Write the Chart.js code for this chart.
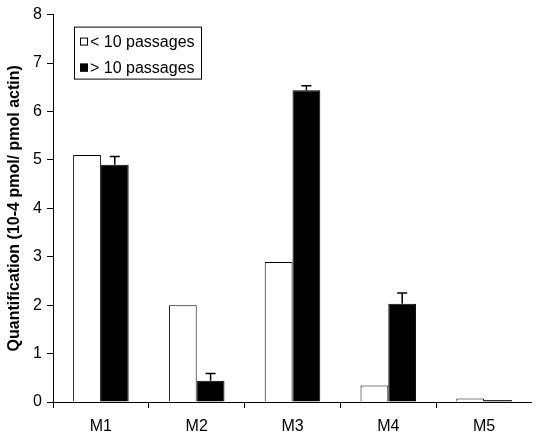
<!DOCTYPE html>
<html>
<head>
<meta charset="utf-8">
<script src="https://cdn.jsdelivr.net/npm/chart.js@4/dist/chart.umd.min.js"></script>
<style>
  html, body { margin: 0; padding: 0; background: #fff; overflow: hidden; }
  #contenedor { width: 532px; height: 434px; position: relative; }
</style>
</head>
<body>
<div id="contenedor"><canvas id="grafica"></canvas></div>
<script>
// Datos
const etiquetas = ["M1", "M2", "M3", "M4", "M5"];
const menos10 = [5.1, 2.0, 2.89, 0.34, 0.07];
const mas10 = [4.9, 0.44, 6.44, 2.03, 0.04];
const errorMas10 = [0.17, 0.15, 0.09, 0.22, 0];
const ticksY = [0, 1, 2, 3, 4, 5, 6, 7, 8];

const fuente = "'Liberation Sans', Arial, sans-serif";

// Barras de error (solo hacia arriba) sobre las barras negras
const barrasError = {
  id: "barrasError",
  afterDatasetsDraw(chart) {
    const ctx = chart.ctx;
    const y = chart.scales.y;
    chart.data.datasets.forEach((ds, i) => {
      if (!ds.errores) return;
      const meta = chart.getDatasetMeta(i);
      meta.data.forEach((barra, j) => {
        const err = ds.errores[j];
        if (!err) return;
        const arriba = y.getPixelForValue(ds.data[j] + err);
        ctx.save();
        ctx.strokeStyle = "#000";
        ctx.lineWidth = 1.5;
        ctx.beginPath();
        ctx.moveTo(barra.x, barra.y);
        ctx.lineTo(barra.x, arriba);
        ctx.moveTo(barra.x - 5, arriba);
        ctx.lineTo(barra.x + 5, arriba);
        ctx.stroke();
        ctx.restore();
      });
    });
  }
};

// Leyenda con recuadro dentro del area del grafico
const leyendaCaja = {
  id: "leyendaCaja",
  afterDraw(chart) {
    const ctx = chart.ctx;
    const a = chart.chartArea;
    const x0 = a.left + 21, y0 = a.top + 12;
    ctx.save();
    ctx.strokeStyle = "#000";
    ctx.lineWidth = 1;
    ctx.strokeRect(x0 + 0.5, y0 + 0.5, 127, 52);
    ctx.font = "16px " + fuente;
    ctx.textBaseline = "middle";
    chart.data.datasets.forEach((ds, i) => {
      const cy = y0 + 15 + i * 26;
      ctx.fillStyle = ds.backgroundColor;
      ctx.fillRect(x0 + 6, cy - 4, 8, 8);
      ctx.strokeRect(x0 + 6.5, cy - 3.5, 7, 7);
      ctx.fillStyle = "#000";
      ctx.fillText(ds.label, x0 + 16, cy + 1);
    });
    ctx.restore();
  }
};

const ctx = document.getElementById("grafica").getContext("2d");
new Chart(ctx, {
  type: "bar",
  data: {
    labels: etiquetas,
    datasets: [
      {
        label: "< 10 passages",
        data: menos10,
        backgroundColor: "#ffffff",
        borderColor: "#000000",
        borderWidth: 1
      },
      {
        label: "> 10 passages",
        data: mas10,
        errores: errorMas10,
        backgroundColor: "#000000",
        borderColor: "#000000",
        borderWidth: 1
      }
    ]
  },
  options: {
    responsive: true,
    maintainAspectRatio: false,
    animation: false,
    layout: { padding: { top: 14, right: -6, left: 0, bottom: 0 } },
    datasets: { bar: { categoryPercentage: 0.58, barPercentage: 1 } },
    plugins: {
      legend: { display: false },
      tooltip: { enabled: false }
    },
    scales: {
      x: {
        grid: { display: true, drawOnChartArea: false, tickLength: 6, color: "#000", offset: true },
        border: { color: "#000", width: 1 },
        ticks: { color: "#000", font: { family: fuente, size: 16 }, padding: 9 },
        afterFit: s => { s.height = 32; }
      },
      y: {
        min: 0,
        max: 8,
        afterBuildTicks: s => { s.ticks = ticksY.map(v => ({ value: v })); },
        grid: { display: true, drawOnChartArea: false, tickLength: 6, color: "#000" },
        border: { color: "#000", width: 1 },
        ticks: { color: "#000", font: { family: fuente, size: 16 }, padding: 5 },
        title: {
          display: true,
          text: "Quantification (10-4 pmol/ pmol actin)",
          color: "#000",
          font: { family: fuente, size: 16, weight: "bold" },
          padding: { top: 5, bottom: 0 }
        },
        afterFit: s => { s.width = 53; }
      }
    }
  },
  plugins: [barrasError, leyendaCaja]
});
</script>
</body>
</html>
